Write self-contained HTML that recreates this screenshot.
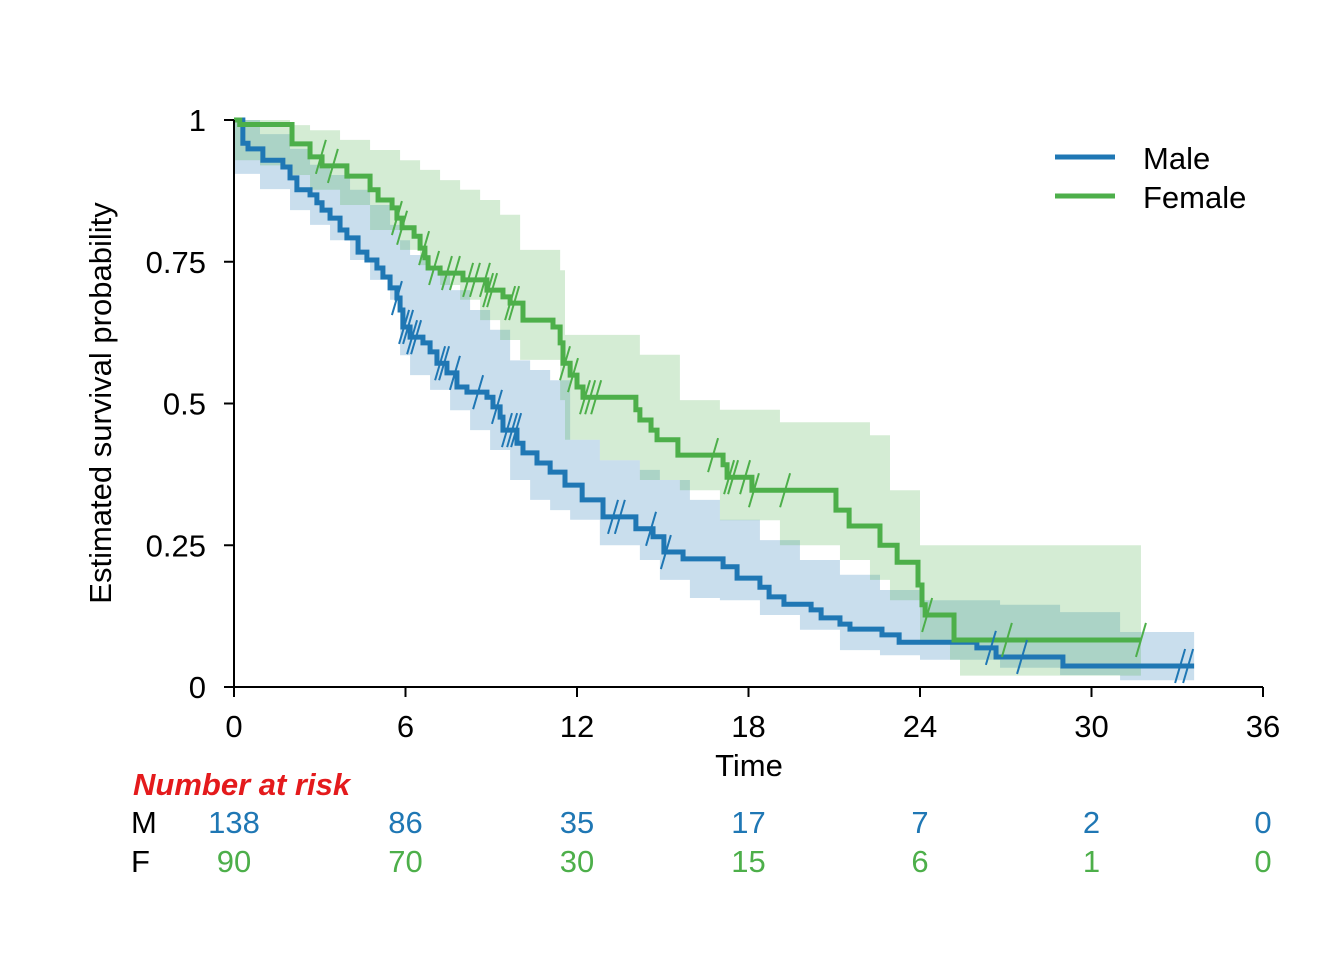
<!DOCTYPE html>
<html><head><meta charset="utf-8"><style>
html,body{margin:0;padding:0;background:#fff;}
svg{display:block;font-family:"Liberation Sans",Arial,sans-serif;}
</style></head><body>
<svg id="c" width="1344" height="960"></svg>
<script>
const maleT=[0,0.31,0.49,1.01,1.71,1.96,2.20,2.66,2.90,3.08,3.36,3.71,3.95,4.34,4.65,5.00,5.21,5.46,5.70,5.81,5.91,6.16,6.61,6.86,7.10,7.45,7.80,8.15,8.85,9.06,9.31,9.41,9.90,10.11,10.60,11.06,11.58,12.18,12.91,14.06,14.66,15.04,15.71,17.11,17.60,18.40,18.72,19.24,20.19,20.54,21.20,21.55,22.67,23.27,25.99,26.66,29.00];
const maleS=[1,0.959,0.949,0.929,0.917,0.898,0.877,0.868,0.854,0.841,0.827,0.806,0.792,0.767,0.753,0.739,0.723,0.704,0.686,0.665,0.635,0.617,0.607,0.591,0.571,0.554,0.529,0.520,0.511,0.494,0.476,0.453,0.430,0.413,0.395,0.379,0.356,0.330,0.300,0.279,0.265,0.238,0.226,0.212,0.192,0.176,0.159,0.146,0.136,0.122,0.111,0.102,0.092,0.079,0.069,0.053,0.037];
const maleEnd=33.59;
const maleCensor=[5.70,5.95,6.09,6.23,6.37,7.21,7.35,7.73,8.54,9.20,9.55,9.73,9.87,13.26,13.50,14.59,15.11,26.48,27.57,33.10,33.38];
const maleBandT=[0,0.91,1.96,2.66,3.36,4.06,4.76,5.46,5.81,6.16,6.86,7.56,8.26,8.96,9.66,10.36,11.06,11.76,12.80,14.20,14.90,15.95,17.00,18.40,19.80,21.20,22.60,24.00,26.80,28.90,31.00];
const maleUp=[1.0,0.975,0.949,0.921,0.903,0.877,0.850,0.815,0.788,0.762,0.735,0.700,0.665,0.630,0.576,0.559,0.541,0.436,0.400,0.383,0.365,0.330,0.295,0.259,0.224,0.198,0.171,0.153,0.145,0.132,0.097];
const maleLo=[0.905,0.878,0.841,0.815,0.788,0.753,0.718,0.683,0.585,0.550,0.524,0.488,0.453,0.418,0.365,0.330,0.312,0.295,0.250,0.224,0.189,0.157,0.153,0.127,0.101,0.065,0.056,0.048,0.034,0.021,0.012];

const femT=[0,0.2,2.03,2.66,3.08,3.95,4.76,5.04,5.53,5.70,5.88,6.30,6.51,6.68,6.79,7.21,8.01,8.85,9.41,9.66,10.11,11.16,11.41,11.51,11.76,12.00,12.21,14.06,14.20,14.59,14.80,15.53,17.11,17.25,18.12,21.06,21.52,22.60,23.20,23.93,24.07,24.18,25.19];
const femS=[1,0.992,0.958,0.935,0.919,0.901,0.877,0.859,0.845,0.827,0.810,0.795,0.774,0.757,0.739,0.730,0.718,0.700,0.688,0.677,0.647,0.635,0.607,0.571,0.550,0.529,0.511,0.489,0.471,0.453,0.436,0.409,0.392,0.370,0.347,0.312,0.284,0.250,0.220,0.180,0.145,0.127,0.083];
const femEnd=31.73;
const femCensor=[3.04,3.46,5.70,5.88,6.65,7.00,7.45,7.73,8.19,8.43,8.78,8.89,9.03,9.66,9.80,11.58,11.86,12.28,12.46,12.67,16.76,17.32,17.46,17.88,18.19,19.28,24.25,27.04,31.73];
const femBandT=[0,0.91,1.96,2.66,3.71,4.76,5.81,6.51,7.21,7.91,8.61,9.31,10.01,11.41,11.58,12.80,14.20,15.60,17.00,19.10,21.20,22.25,22.95,24.00,25.05,25.40];
const femUp=[1.0,1.0,0.991,0.982,0.965,0.947,0.929,0.912,0.894,0.877,0.859,0.833,0.771,0.735,0.621,0.621,0.586,0.506,0.489,0.467,0.467,0.444,0.347,0.250,0.250,0.250];
const femLo=[0.929,0.920,0.903,0.877,0.850,0.806,0.771,0.744,0.709,0.683,0.647,0.612,0.577,0.506,0.436,0.400,0.365,0.347,0.294,0.250,0.224,0.189,0.153,0.083,0.048,0.020];

const xTicks=[0,6,12,18,24,30,36];
const yTicks=[0,0.25,0.5,0.75,1];
const yTickLabels=["0","0.25","0.5","0.75","1"];
const riskM=[138,86,35,17,7,2,0];
const riskF=[90,70,30,15,6,1,0];

const BLUE="#1f77b4",GREEN="#4daf4a";
const FS=31;
const X0=234,X1=1263,Y0=687,Y1=120;
const sx=t=>X0+(X1-X0)*t/36;
const sy=s=>Y0-(Y0-Y1)*s;
const svg=document.getElementById('c');
const NS="http://www.w3.org/2000/svg";
function mk(tag,attrs,parent){const e=document.createElementNS(NS,tag);for(const k in attrs)e.setAttribute(k,attrs[k]);(parent||svg).appendChild(e);return e;}

function stepPath(T,S,end){let d=`M${sx(T[0])},${sy(S[0])}`;for(let i=1;i<T.length;i++){d+=`H${sx(T[i])}V${sy(S[i])}`;}d+=`H${sx(end)}`;return d;}
function bandPath(T,U,L,end){let d=`M${sx(T[0])},${sy(U[0])}`;for(let i=1;i<T.length;i++){d+=`H${sx(T[i])}V${sy(U[i])}`;}d+=`H${sx(end)}V${sy(L[L.length-1])}`;for(let i=T.length-1;i>=1;i--){d+=`H${sx(T[i])}V${sy(L[i-1])}`;}d+=`H${sx(T[0])}Z`;return d;}
function survAt(T,S,t){let v=S[0];for(let i=0;i<T.length;i++){if(T[i]<=t)v=S[i];}return v;}

let b=mk('path',{d:bandPath(maleBandT,maleUp,maleLo,maleEnd),fill:BLUE,'fill-opacity':0.24});

b=mk('path',{d:bandPath(femBandT,femUp,femLo,femEnd),fill:GREEN,'fill-opacity':0.24});


let l=mk('path',{d:stepPath(maleT,maleS,maleEnd),fill:'none',stroke:BLUE,'stroke-width':5});

l=mk('path',{d:stepPath(femT,femS,femEnd),fill:'none',stroke:GREEN,'stroke-width':5});


function censor(list,T,S,col,name){list.forEach(t=>{const x=sx(t),y=sy(survAt(T,S,t));const c=mk('line',{x1:x-5,y1:y+17,x2:x+5,y2:y-17,stroke:col,'stroke-width':2});

});}
censor(maleCensor,maleT,maleS,BLUE,'male-censor-mark');
censor(femCensor,femT,femS,GREEN,'female-censor-mark');

let a=mk('line',{x1:X0,y1:Y1,x2:X0,y2:Y0,stroke:'#000','stroke-width':2});

a=mk('line',{x1:X0,y1:Y0,x2:X1,y2:Y0,stroke:'#000','stroke-width':2});

yTicks.forEach((v,i)=>{const y=sy(v);const t=mk('line',{x1:X0-10,y1:y,x2:X0,y2:y,stroke:'#000','stroke-width':2});

const tx=mk('text',{x:206,y:y+11,'text-anchor':'end','font-size':FS});tx.textContent=yTickLabels[i];
});
xTicks.forEach((v,i)=>{const x=sx(v);const t=mk('line',{x1:x,y1:Y0,x2:x,y2:Y0+10,stroke:'#000','stroke-width':2});

const tx=mk('text',{x:x,y:737,'text-anchor':'middle','font-size':FS});tx.textContent=v;

const m=mk('text',{x:x,y:833,'text-anchor':'middle','font-size':FS,fill:BLUE});m.textContent=riskM[i];

const f=mk('text',{x:x,y:872,'text-anchor':'middle','font-size':FS,fill:GREEN});f.textContent=riskF[i];
});
let t=mk('text',{x:749,y:776,'text-anchor':'middle','font-size':FS});t.textContent='Time';

t=mk('text',{x:111,y:403,'text-anchor':'middle','font-size':FS,transform:'rotate(-90 111 403)'});t.textContent='Estimated survival probability';

t=mk('text',{x:133,y:795,'font-size':FS,'font-weight':'bold','font-style':'italic',fill:'#e41a1c'});t.textContent='Number at risk';

t=mk('text',{x:131,y:833,'font-size':FS});t.textContent='M';

t=mk('text',{x:131,y:872,'font-size':FS});t.textContent='F';

let g=mk('line',{x1:1055,y1:157,x2:1115,y2:157,stroke:BLUE,'stroke-width':5});

g=mk('text',{x:1143,y:169,'font-size':FS});g.textContent='Male';

g=mk('line',{x1:1055,y1:196,x2:1115,y2:196,stroke:GREEN,'stroke-width':5});

g=mk('text',{x:1143,y:208,'font-size':FS});g.textContent='Female';

</script>
</body></html>
